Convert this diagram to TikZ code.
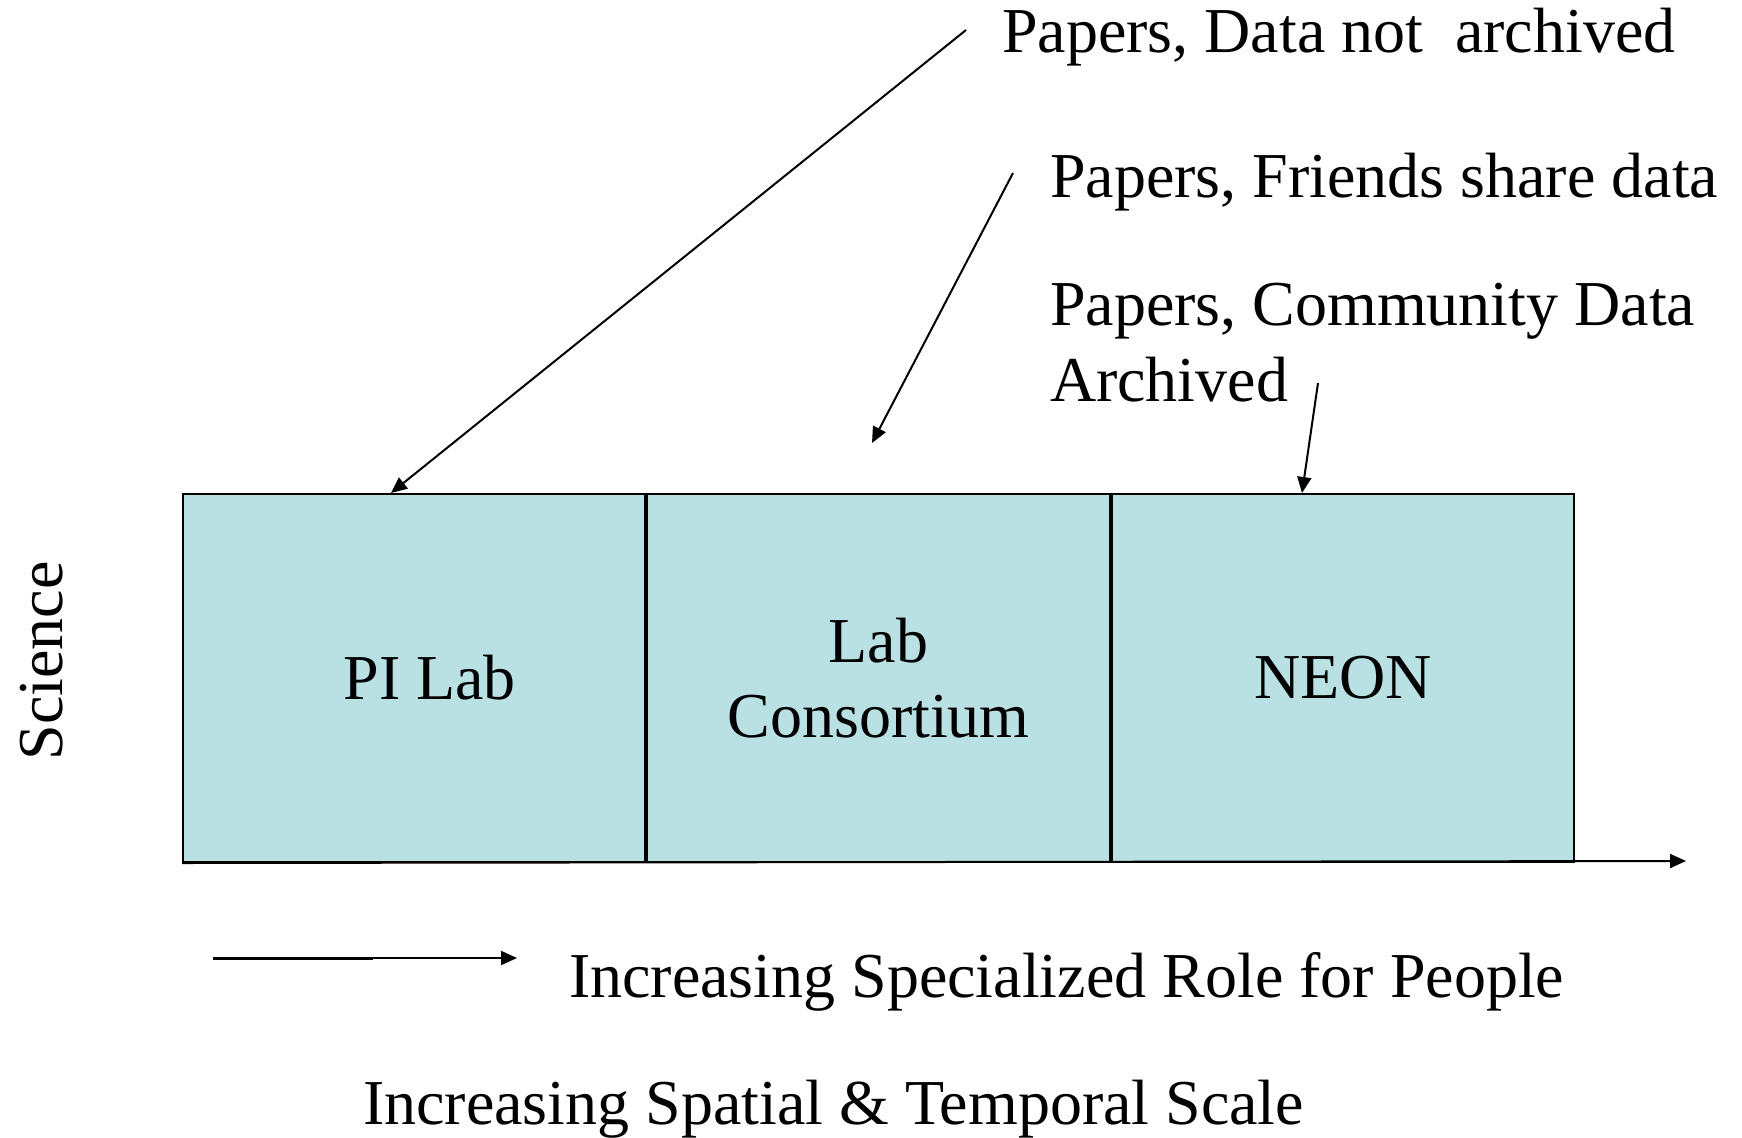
\documentclass[tikz,border=0pt]{standalone}
\usepackage{fontspec}
\setmainfont{Liberation Serif}
\usetikzlibrary{arrows.meta,positioning}
\definecolor{boxfill}{RGB}{185,224,227}

\begin{document}
\begin{tikzpicture}[x=0.5pt,y=-0.5pt,line width=1pt,
    >={Triangle[length=8pt,width=7pt]},
    block/.style={draw,fill=boxfill,minimum width=231.2pt,minimum height=184pt,
        inner sep=0pt,align=center,font=\fontsize{32}{37.5}\selectfont},
    note/.style={anchor=base west,inner sep=0pt,font=\fontsize{32}{37.8}\selectfont}]
    \useasboundingbox (0,0) rectangle (1742,1137);
    % boxes
    \node[block,anchor=north west] (pilab) at (182,493) {\hspace*{15.5pt}PI Lab};
    \node[block,right=0pt of pilab] (consort) {Lab\\Consortium};
    \node[block,right=0pt of consort] (neon) {NEON};
    % axis
    \coordinate (axend) at (1686,861);
    \draw[->] (pilab.south west) -- (axend);
    \node[rotate=90,font=\fontsize{32}{38}\selectfont] (science) at (42,661) {Science};
    % notes on top
    \node[note] (nodata) at (1001,52) {Papers, Data not\ \ archived};
    \node[note] (friends) at (1049,197) {Papers, Friends share data};
    \node[note,align=left] (community) at (1049,401) {Papers, Community Data\\Archived};
    \coordinate (a1) at (966,30);
    \coordinate (a2) at (1013,173);
    \coordinate (b2) at (872,443);
    \coordinate (a3) at (1318,383);
    \draw[->] (a1) -- (pilab.north west -| 391,0);
    \draw[->] (a2) -- (b2);
    \draw[->] (a3) -- (neon.north west -| 1302,0);
    % bottom
    \coordinate (r0) at (213,958);
    \coordinate (r1) at (373,958);
    \coordinate (r2) at (517,958);
    \draw[line width=1.5pt] (r0) -- (r1);
    \draw[->] (r0) -- (r2);
    \node[note] (role) at (568,997) {Increasing Specialized Role for People};
    \node[note] (scale) at (362,1124) {Increasing Spatial \& Temporal Scale};
\end{tikzpicture}
\end{document}
